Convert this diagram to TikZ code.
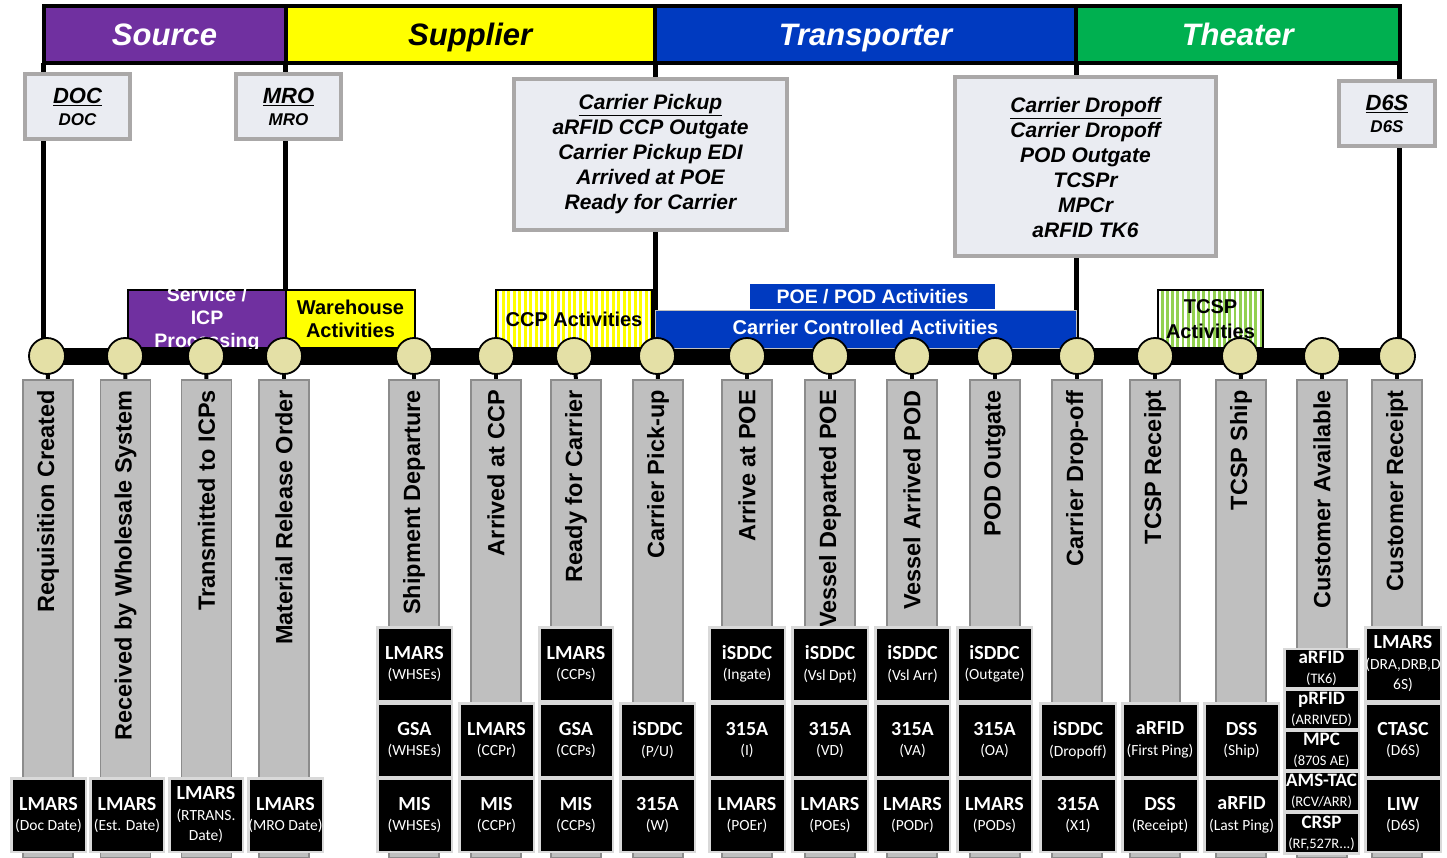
\documentclass[tikz,border=0pt]{standalone}
\usepackage{fontspec}
\setmainfont{Liberation Sans}
\newfontfamily\carlito{Carlito}
\usetikzlibrary{patterns.meta}
\pgfdeclarelayer{bg}
\pgfsetlayers{bg,main}
\definecolor{srcpurple}{RGB}{112,48,160}
\definecolor{supyellow}{RGB}{255,255,0}
\definecolor{trblue}{RGB}{0,58,192}
\definecolor{thgreen}{RGB}{0,176,80}
\definecolor{lgreen}{RGB}{146,208,80}
\definecolor{dotfill}{RGB}{228,224,166}
\definecolor{colgray}{RGB}{191,191,191}
\definecolor{coledge}{RGB}{140,140,140}
\definecolor{lblfill}{RGB}{234,236,242}
\definecolor{lbledge}{RGB}{170,168,168}
\definecolor{boxedge}{RGB}{217,217,217}
\newcommand\sysbx[7]{%
  \node[sysbox, minimum width={(#3)-(#2)-2.5}, minimum height={(#5)-(#4)-2.5}]
    (#1) at ({((#2)+(#3))/2},{((#4)+(#5))/2})
    {{\fontsize{20}{20}\selectfont\bfseries #6}\\#7};}
\newcommand\smallbx[7]{%
  \node[sysbox, font=\carlito\fontsize{14.5}{20}\selectfont, minimum width={(#3)-(#2)-2.5}, minimum height={(#5)-(#4)-2.5}]
    (#1) at ({((#2)+(#3))/2},{((#4)+(#5))/2+1.5})
    {{\fontsize{19}{19}\selectfont\bfseries #6}\\#7};}
\begin{document}
\begin{tikzpicture}[x=1pt,y=-1pt,
  hdr/.style={draw=black, line width=4pt, inner sep=0pt, outer sep=0pt, minimum height=57pt,
    font=\fontsize{31}{36}\selectfont\bfseries\itshape, text height=22.5pt, text depth=0pt},
  frame/.style={line width=5pt, black},
  lbl/.style={fill=lblfill, draw=lbledge, line width=4pt, inner sep=0pt, outer sep=0pt, align=center},
  act/.style={draw=black, line width=2.5pt, inner sep=0pt, outer sep=0pt, align=center,
    font=\bfseries\fontsize{20}{24}\selectfont},
  col/.style={fill=colgray, draw=coledge, line width=1.8pt, minimum width=50pt, minimum height=478pt,
    inner sep=0pt, outer sep=0pt},
  coltext/.style={rotate=90, anchor=east, inner sep=0pt, font=\bfseries\fontsize{23.5}{28}\selectfont},
  dot/.style={circle, fill=dotfill, draw=black, line width=1.8pt, minimum size=36pt, inner sep=0pt},
  stub/.style={line width=4pt, black},
  bar/.style={line width=17pt, black},
  sysbox/.style={fill=black, draw=boxedge, line width=2.5pt, text=white, align=center,
    inner sep=0pt, outer sep=0pt, font=\carlito\fontsize{15.5}{20.5}\selectfont}
]
\useasboundingbox (0,0) rectangle (1447,858);

% header
\node[hdr, fill=srcpurple, text=white, minimum width=242pt] (src) at (164.5,34.5) {Source};
\node[hdr, fill=supyellow, text=black, minimum width=369.5pt] (sup) at (470.25,34.5) {Supplier};
\node[hdr, fill=trblue, text=white, minimum width=421pt] (trn) at (865.5,34.5) {Transporter};
\node[hdr, fill=thgreen, text=white, minimum width=323.5pt] (thr) at (1237.75,34.5) {Theater};

% label boxes
\node[lbl, minimum width=105pt, minimum height=65pt, font=\bfseries\itshape\fontsize{17}{22}\selectfont]
  (doc) at (77.5,106.5) {{\fontsize{22}{22}\selectfont\underline{DOC}}\\DOC};
\node[lbl, minimum width=105pt, minimum height=65pt, font=\bfseries\itshape\fontsize{17}{22}\selectfont]
  (mro) at (288.5,106.5) {{\fontsize{22}{22}\selectfont\underline{MRO}}\\MRO};
\node[lbl, minimum width=96pt, minimum height=65pt, font=\bfseries\itshape\fontsize{17}{22}\selectfont]
  (d6s) at (1387,113.5) {{\fontsize{22}{22}\selectfont\underline{D6S}}\\D6S};
\node[lbl, minimum width=273pt, minimum height=151pt, font=\bfseries\itshape\fontsize{21}{25}\selectfont]
  (cpk) at (650.5,154.5) {\underline{Carrier Pickup}\\aRFID CCP Outgate\\Carrier Pickup EDI\\Arrived at POE\\Ready for Carrier};
\node[lbl, minimum width=261pt, minimum height=179pt, font=\bfseries\itshape\fontsize{21}{25}\selectfont]
  (cdo) at (1085.5,167) {\underline{Carrier Dropoff}\\Carrier Dropoff\\POD Outgate\\TCSPr\\MPCr\\aRFID TK6};

% activity boxes
\node[act, fill=srcpurple, minimum width=158pt, minimum height=58pt] (svc) at (207,319) {};
\begin{scope}
  \clip (svc.north west) rectangle (svc.south east);
  \node[align=center, inner sep=0pt, text=white, font=\bfseries\fontsize{19.5}{23}\selectfont]
    (svct) at (207,320) {Service /\\ICP\\Processing};
\end{scope}
\node[act, fill=supyellow, minimum width=129pt, minimum height=58pt] (whs) at (350.5,319) {\raisebox{-2pt}{\shortstack{Warehouse\\[5pt]Activities}}};
\node[act, preaction={fill=supyellow}, pattern={Lines[angle=90,distance=5.5pt,line width=2.2pt]}, pattern color=white,
  minimum width=156pt, minimum height=58pt] (ccp) at (574,319) {\raisebox{-2pt}{CCP Activities}};
\node[fill=trblue, inner sep=0pt, outer sep=0pt, minimum width=245pt, minimum height=25pt, text=white,
  font=\bfseries\fontsize{19.5}{22}\selectfont] (poe) at (872.5,296.5) {POE / POD Activities};
\node[fill=trblue, draw=gray!50, line width=0.8pt, inner sep=0pt, outer sep=0pt, minimum width=421pt, minimum height=38pt,
  text=white, font=\bfseries\fontsize{20}{22}\selectfont] (cca) at (865.5,329) {\raisebox{4pt}{Carrier Controlled Activities}};
\node[act, line width=1.5pt, preaction={fill=lgreen}, pattern={Lines[angle=90,distance=5.2pt,line width=2.4pt]}, pattern color=white,
  minimum width=105pt, minimum height=58pt] (tcsp) at (1210.5,319) {TCSP\\[1pt]Activities};

% columns with vertical labels
\foreach \i/\x/\t in {1/48/Requisition Created, 2/125.5/Received by Wholesale System, 3/206.5/Transmitted to ICPs,
  4/284/Material Release Order, 5/414/Shipment Departure, 6/496/Arrived at CCP, 7/576/Ready for Carrier,
  8/658/Carrier Pick-up, 9/747/Arrive at POE, 10/830/Vessel Departed POE, 11/912/Vessel Arrived POD,
  12/995/POD Outgate, 13/1077/Carrier Drop-off, 14/1155/TCSP Receipt, 15/1241/TCSP Ship,
  16/1322/Customer Available, 17/1397/Customer Receipt}{
  \node[col] (k\i) at (\x,619) {};
  \node[coltext] (t\i) at ([yshift=-10pt]k\i.north) {\t};
}

% milestone circles
\foreach \i/\x in {1/47, 2/125, 3/206, 4/284, 5/414, 6/496, 7/574, 8/657, 9/747, 10/830, 11/912,
  12/995, 13/1077, 14/1155, 15/1240, 16/1322, 17/1397}{
  \node[dot] (c\i) at (\x,356) {};
}

% background: frame lines, timeline bar, stubs
\begin{pgfonlayer}{bg}
  \draw[frame] (src.south west) -- (src.south west |- c1.center);
  \draw[frame] (src.south east) -- (src.south east |- c4.center);
  \draw[frame] (trn.south west) -- (trn.south west |- c8.center);
  \draw[frame] (thr.south west) -- (thr.south west |- c13.center);
  \draw[frame] (thr.south east) -- (thr.south east |- c17.center);
  \draw[bar] (c1.center) -- (c17.center);
  \foreach \i in {1,...,17}{ \draw[stub] (c\i.center) -- (k\i.north); }
\end{pgfonlayer}

% system boxes
\sysbx{b1}{10}{87}{777}{853}{LMARS}{(Doc Date)}
\sysbx{b2}{89}{165}{777}{853}{LMARS}{(Est. Date)}
\sysbx{b3}{168}{244}{777}{853}{LMARS}{(RTRANS.\\Date)}
\sysbx{b4}{247}{324}{777}{853}{LMARS}{(MRO Date)}

\sysbx{b5a}{376}{453}{626}{702}{LMARS}{(WHSEs)}
\sysbx{b5b}{376}{453}{702}{778}{GSA}{(WHSEs)}
\sysbx{b5c}{376}{453}{777}{853}{MIS}{(WHSEs)}

\sysbx{b6b}{458}{535}{702}{778}{LMARS}{(CCPr)}
\sysbx{b6c}{458}{535}{777}{853}{MIS}{(CCPr)}

\sysbx{b7a}{538}{614}{626}{702}{LMARS}{(CCPs)}
\sysbx{b7b}{538}{614}{702}{778}{GSA}{(CCPs)}
\sysbx{b7c}{538}{614}{777}{853}{MIS}{(CCPs)}

\sysbx{b8b}{619}{696}{702}{778}{iSDDC}{(P/U)}
\sysbx{b8c}{619}{696}{777}{853}{315A}{(W)}

\sysbx{b9a}{708}{786}{626}{702}{iSDDC}{(Ingate)}
\sysbx{b9b}{708}{786}{702}{778}{315A}{(I)}
\sysbx{b9c}{708}{786}{777}{853}{LMARS}{(POEr)}

\sysbx{b10a}{791}{869}{626}{702}{iSDDC}{(Vsl Dpt)}
\sysbx{b10b}{791}{869}{702}{778}{315A}{(VD)}
\sysbx{b10c}{791}{869}{777}{853}{LMARS}{(POEs)}

\sysbx{b11a}{874}{951}{626}{702}{iSDDC}{(Vsl Arr)}
\sysbx{b11b}{874}{951}{702}{778}{315A}{(VA)}
\sysbx{b11c}{874}{951}{777}{853}{LMARS}{(PODr)}

\sysbx{b12a}{956}{1033}{626}{702}{iSDDC}{(Outgate)}
\sysbx{b12b}{956}{1033}{702}{778}{315A}{(OA)}
\sysbx{b12c}{956}{1033}{777}{853}{LMARS}{(PODs)}

\sysbx{b13b}{1039}{1117}{702}{778}{iSDDC}{(Dropoff)}
\sysbx{b13c}{1039}{1117}{777}{853}{315A}{(X1)}

\sysbx{b14b}{1121}{1199}{702}{778}{aRFID}{(First Ping)}
\sysbx{b14c}{1121}{1199}{777}{853}{DSS}{(Receipt)}

\sysbx{b15b}{1203}{1280}{702}{778}{DSS}{(Ship)}
\sysbx{b15c}{1203}{1280}{777}{853}{aRFID}{(Last Ping)}

\smallbx{b16a}{1283}{1360}{646}{688}{aRFID}{(TK6)}
\smallbx{b16b}{1283}{1360}{687}{729}{pRFID}{(ARRIVED)}
\smallbx{b16c}{1283}{1360}{728}{770}{MPC}{(870S AE)}
\smallbx{b16d}{1283}{1360}{769}{811}{AMS-TAC}{(RCV/ARR)}
\smallbx{b16e}{1283}{1360}{810}{853}{CRSP}{(RF,527R...)}

\sysbx{b17a}{1364}{1442}{626}{702}{LMARS}{(DRA,DRB,D\\6S)}
\sysbx{b17b}{1364}{1442}{702}{778}{CTASC}{(D6S)}
\sysbx{b17c}{1364}{1442}{777}{853}{LIW}{(D6S)}

\end{tikzpicture}
\end{document}
